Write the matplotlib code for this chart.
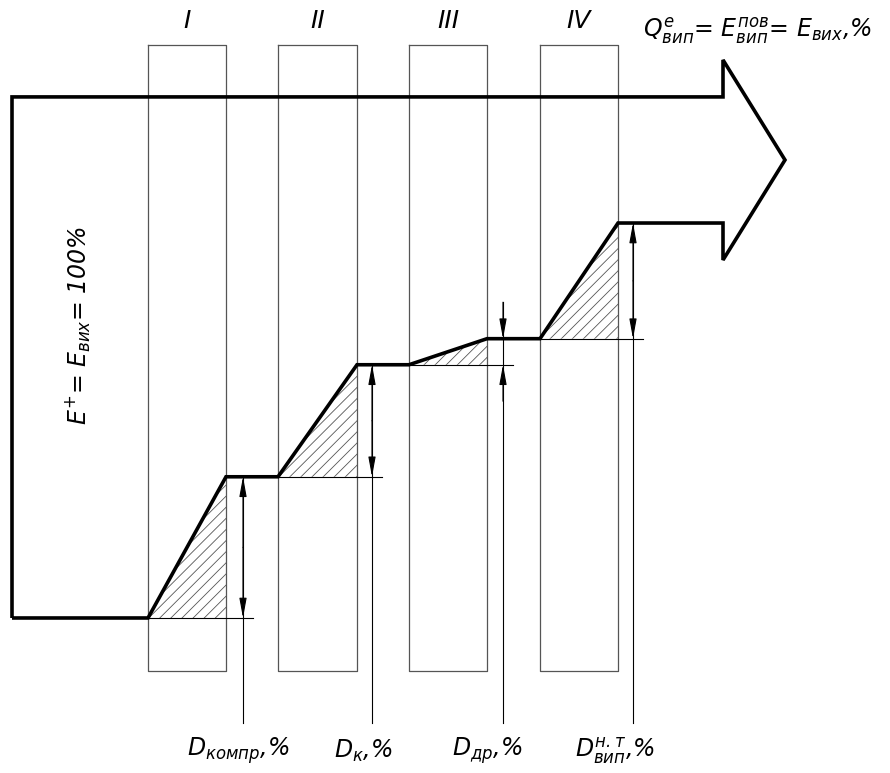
import numpy as np
import matplotlib
matplotlib.use("Agg")
import matplotlib.pyplot as plt

plt.rcParams["mathtext.fontset"] = "custom"
plt.rcParams["mathtext.it"] = "DejaVu Sans:italic"
plt.rcParams["mathtext.rm"] = "DejaVu Sans:italic"
plt.rcParams["font.family"] = ["DejaVu Sans"]
plt.rcParams["font.style"] = "italic"
plt.rcParams["hatch.linewidth"] = 0.6

# stages of the exergy flow (boxes I..IV), x positions in drawing units
stage_names = ["I", "II", "III", "IV"]
box_left = [148, 278, 409, 540]
box_right = [226, 357, 487, 618]
dim_x = [243, 372, 503, 633]
label_x = [238, 363, 487, 615]

# exergy losses of every stage, % of input exergy
losses = [27.1, 21.5, 5.0, 22.2]
loss_labels = [r"$D_{компр}$,%", r"$D_{к}$,%", r"$D_{др}$,%", r"$D^{н.т}_{вип}$,%"]

levels = np.concatenate([[0], np.cumsum(losses)])  # lower edge of flow after each stage
top_level = 100.0

fig = plt.figure(figsize=(8.9, 7.73), dpi=100)
ax = fig.add_axes([0, 0, 1, 1])
ax.set_xlim(0, 890)
ax.set_ylim(-29.75, 118.6)
ax.axis("off")

thick = dict(color="black", lw=2.6, solid_joinstyle="miter", solid_capstyle="butt")
thin = dict(color="#555555", lw=0.9)

# stage boxes and numerals
for name, xl, xr in zip(stage_names, box_left, box_right):
    ax.plot([xl, xr, xr, xl, xl], [110, 110, -10.2, -10.2, 110], **thin)
    ax.text((xl + xr) / 2, 112.3, name, ha="center", va="bottom", fontsize=18)

# outline of flow: lower stepped edge, arrow head, top edge
xs = [12, box_left[0]]
ys = [levels[0], levels[0]]
for i in range(4):
    xs += [box_right[i]]
    ys += [levels[i + 1]]
    if i < 3:
        xs += [box_left[i + 1]]
        ys += [levels[i + 1]]
xs += [723, 723, 785, 723, 723, 12, 12]
ys += [levels[-1], 68.7, 87.9, 107.1, top_level, top_level, levels[0]]
ax.plot(xs, ys, **thick)

# hatched loss triangles, base extension lines and dimensions
for i in range(4):
    xl, xr = box_left[i], box_right[i]
    lo, hi = levels[i], levels[i + 1]
    ax.fill([xl, xr, xr], [lo, hi, lo], facecolor="none", edgecolor="#555555",
            hatch="///", lw=0)
    ax.plot([xl, dim_x[i] + 10], [lo, lo], color="black", lw=0.8)
    x = dim_x[i]
    ax.plot([x, x], [-20.2, hi], color="black", lw=0.8)
    ah = dict(arrowstyle="-|>,head_length=1.2,head_width=0.22", color="black",
              lw=0.8, shrinkA=0, shrinkB=0)
    if hi - lo > 10:
        ax.annotate("", xy=(x, hi), xytext=(x, (hi + lo) / 2), arrowprops=ah)
        ax.annotate("", xy=(x, lo), xytext=(x, (hi + lo) / 2), arrowprops=ah)
    else:
        ax.plot([x, x], [hi, hi + 7], color="black", lw=0.8)
        ax.annotate("", xy=(x, hi), xytext=(x, hi + 7), arrowprops=ah)
        ax.annotate("", xy=(x, lo), xytext=(x, lo - 7), arrowprops=ah)
    ax.text(label_x[i], -25.5, loss_labels[i], ha="center", va="center", fontsize=17)

ax.text(78, 56.2, r"$E^{+}$= $E_{вих}$= 100%", rotation=90, ha="center",
        va="center", fontsize=17)
ax.text(643, 111.5, r"$Q^{e}_{вип}$= $E^{пов}_{вип}$= $E_{вих}$,%", ha="left",
        va="baseline", fontsize=17)

fig.savefig("out.png", dpi=100)
